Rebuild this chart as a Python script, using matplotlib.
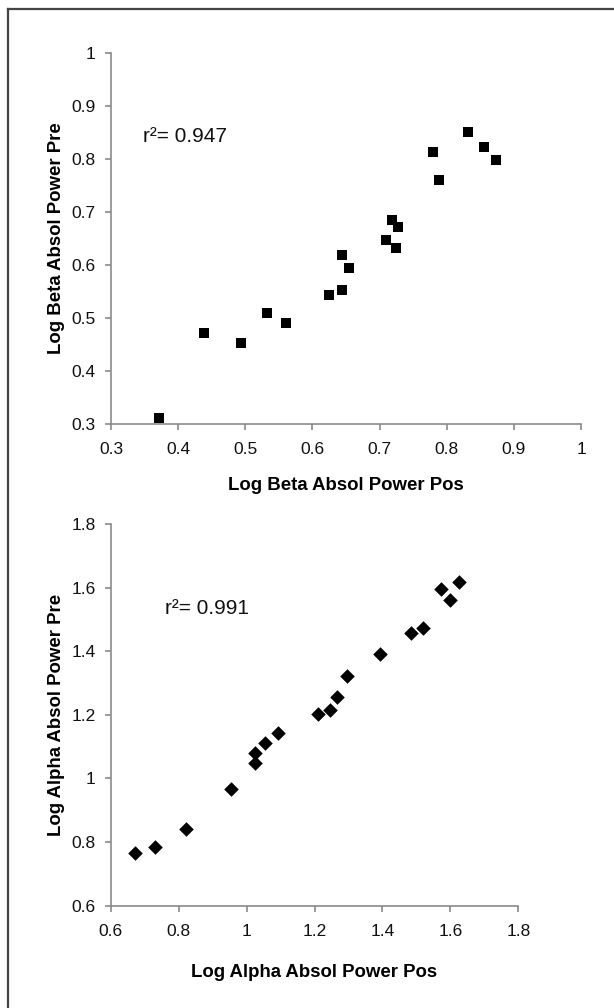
import matplotlib
matplotlib.use("Agg")
import matplotlib.pyplot as plt
from matplotlib.lines import Line2D
import numpy as np

plt.rcParams['font.family'] = ['Liberation Sans', 'DejaVu Sans']

# Beta (top panel)
beta_pos = [0.372, 0.438, 0.494, 0.533, 0.561, 0.624, 0.644, 0.644, 0.654,
            0.710, 0.725, 0.718, 0.728, 0.779, 0.789, 0.832, 0.855, 0.874]
beta_pre = [0.311, 0.472, 0.453, 0.509, 0.491, 0.544, 0.553, 0.619, 0.594,
            0.647, 0.633, 0.684, 0.671, 0.814, 0.761, 0.851, 0.823, 0.798]
beta_r2 = "r²= 0.947"

# Alpha (bottom panel)
alpha_pos = [0.672, 0.730, 0.822, 0.953, 1.024, 1.024, 1.053, 1.093, 1.209,
             1.247, 1.266, 1.296, 1.393, 1.483, 1.518, 1.571, 1.600, 1.624]
alpha_pre = [0.765, 0.786, 0.841, 0.967, 1.048, 1.080, 1.111, 1.142, 1.204,
             1.214, 1.255, 1.323, 1.391, 1.457, 1.473, 1.597, 1.560, 1.618]
alpha_r2 = "r²= 0.991"

beta_ticks = [0.3, 0.4, 0.5, 0.6, 0.7, 0.8, 0.9, 1.0]
alpha_ticks = [0.6, 0.8, 1.0, 1.2, 1.4, 1.6, 1.8]

W, H = 614, 1008
fig = plt.figure(figsize=(W / 100, H / 100), dpi=100)

# outer frame (top and left edges)
fig.add_artist(Line2D([8 / W, 8 / W], [0, 1 - 9 / H], transform=fig.transFigure,
                      color='#444444', lw=1.6))
fig.add_artist(Line2D([8 / W, 1], [1 - 9 / H, 1 - 9 / H], transform=fig.transFigure,
                      color='#444444', lw=1.6))

def fmt(v):
    return f"{v:g}"

def style(ax, ticks_x, ticks_y):
    for s in ['top', 'right']:
        ax.spines[s].set_visible(False)
    for s in ['left', 'bottom']:
        ax.spines[s].set_color('#8a8a8a')
        ax.spines[s].set_linewidth(1.2)
    ax.set_xticks(ticks_x)
    ax.set_yticks(ticks_y)
    ax.set_xticklabels([fmt(t) for t in ticks_x])
    ax.set_yticklabels([fmt(t) for t in ticks_y])
    ax.tick_params(axis='both', direction='out', length=4, width=1.2,
                   color='#8a8a8a', labelsize=12.5, labelcolor='#111111')
    ax.tick_params(axis='x', pad=9)
    ax.tick_params(axis='y', pad=7)

LABEL_SIZE = 13.4

# top axes
ax1 = fig.add_axes([111 / W, 1 - 424 / H, 470 / W, 371 / H])
ax1.scatter(beta_pos, beta_pre, marker='s', s=62, color='black', linewidths=0, zorder=3)
ax1.set_xlim(0.3, 1.0)
ax1.set_ylim(0.3, 1.0)
style(ax1, beta_ticks, beta_ticks)
ax1.text(0.348, 0.843, beta_r2, fontsize=15, va='center', ha='left', color='#111111')
ax1.set_xlabel("Log Beta Absol Power Pos", fontsize=LABEL_SIZE, fontweight='bold', va='center')
ax1.xaxis.set_label_coords(0.5, -61 / 371)
ax1.set_ylabel("Log Beta Absol Power Pre", fontsize=LABEL_SIZE, fontweight='bold', va='center')
ax1.yaxis.set_label_coords(-54.5 / 470, 0.5)

# bottom axes
ax2 = fig.add_axes([110.7 / W, 1 - 905.7 / H, 407.6 / W, 381.7 / H])
ax2.scatter(alpha_pos, alpha_pre, marker='D', s=55, color='black', linewidths=0, zorder=3)
ax2.set_xlim(0.6, 1.8)
ax2.set_ylim(0.6, 1.8)
style(ax2, alpha_ticks, alpha_ticks)
ax2.text(0.760, 1.533, alpha_r2, fontsize=15, va='center', ha='left', color='#111111')
ax2.set_xlabel("Log Alpha Absol Power Pos", fontsize=LABEL_SIZE, fontweight='bold', va='center')
ax2.xaxis.set_label_coords(0.5, -67 / 381.7)
ax2.set_ylabel("Log Alpha Absol Power Pre", fontsize=LABEL_SIZE, fontweight='bold', va='center')
ax2.yaxis.set_label_coords(-54.5 / 407.6, 0.5)

fig.savefig("out.png", dpi=100)
